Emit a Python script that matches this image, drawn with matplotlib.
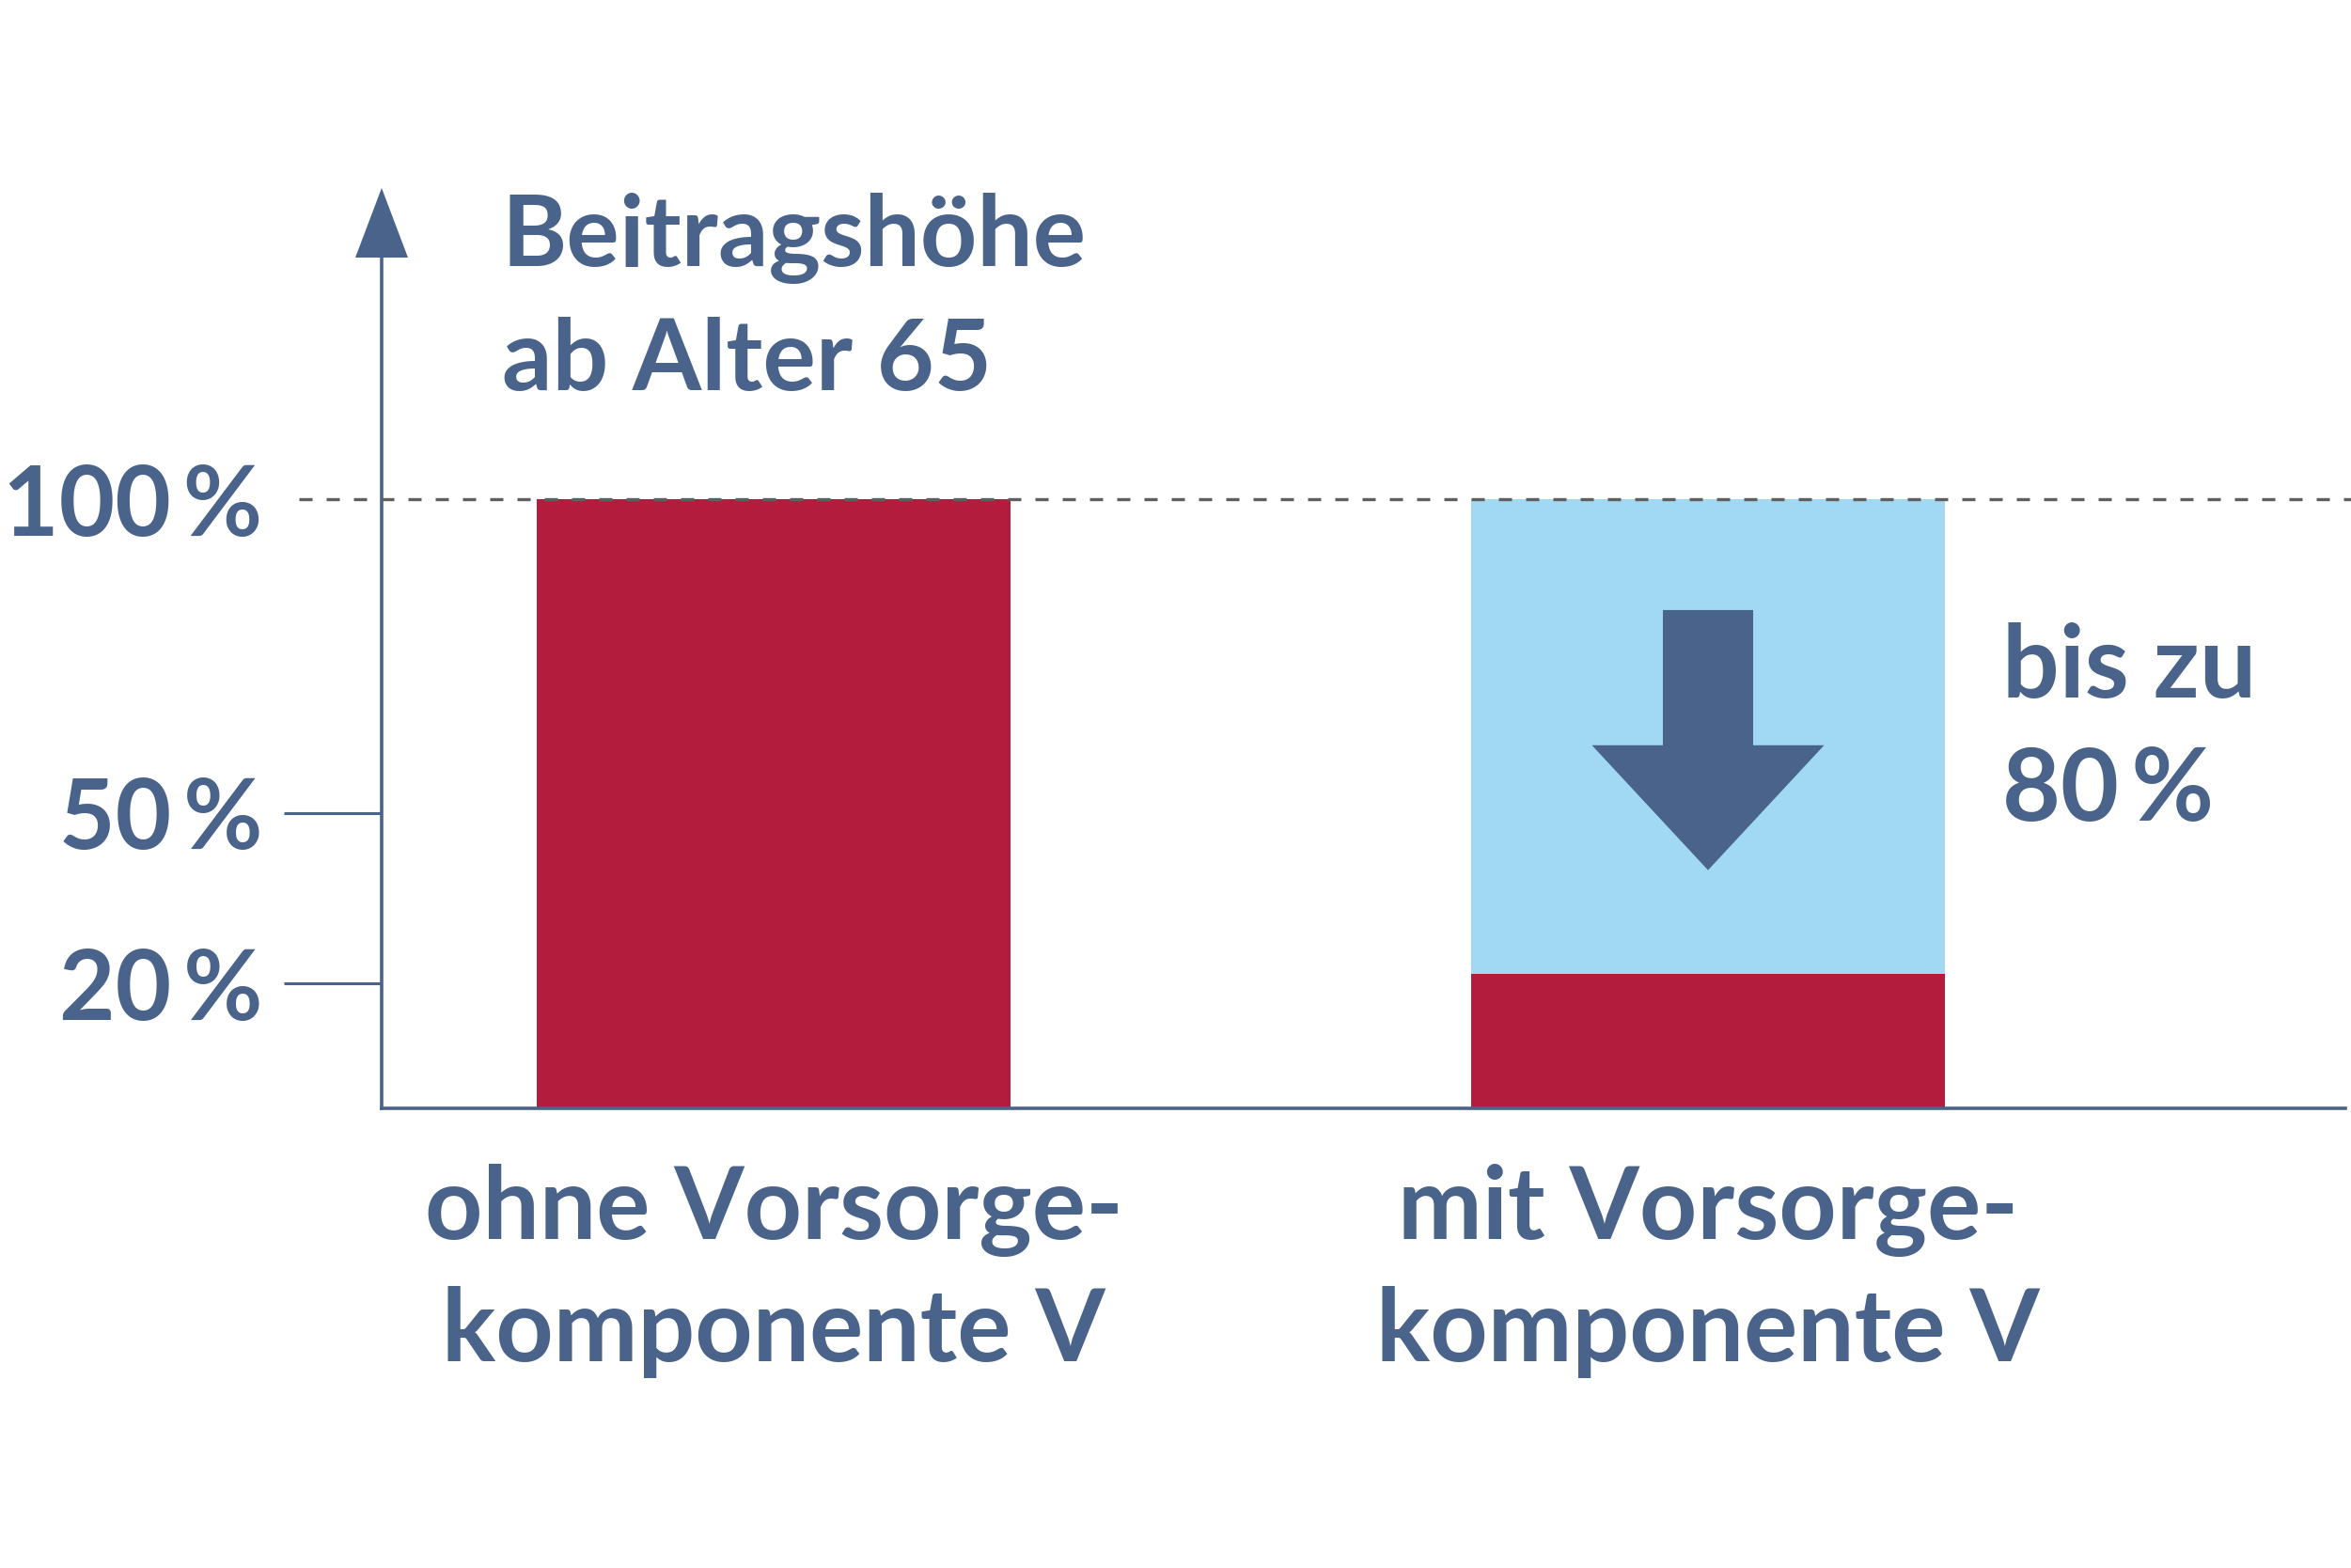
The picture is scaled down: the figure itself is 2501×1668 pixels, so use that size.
import matplotlib
matplotlib.use("Agg")
import matplotlib.pyplot as plt
from matplotlib.patches import Polygon, FancyArrow
from matplotlib.transforms import blended_transform_factory

# ---- data ----
categories = ["ohne Vorsorge-\nkomponente V", "mit Vorsorge-\nkomponente V"]
remaining_share = [100, 22]      # red part (contribution still paid)
reduction_share = [0, 78]        # light-blue part (reduction)
tick_values = [20.5, 48.5, 100]
tick_labels = ["20\u2009%", "50\u2009%", "100\u2009%"]
title_lines = ["Beitragshöhe", "ab Alter 65"]
note_lines = ["bis zu", "80\u2009%"]

# ---- style ----
W, H, DPI = 2501, 1668, 100
BLUE = "#49638A"
RED = "#B41C3E"
LIGHT = "#A1D9F5"
GRAY = "#5F5F5F"
FONT = ["Lato", "DejaVu Sans"]
plt.rcParams["font.family"] = FONT
plt.rcParams["font.weight"] = "bold"

fig = plt.figure(figsize=(W / DPI, H / DPI), dpi=DPI)
fig.patch.set_facecolor("white")

def fx(px):
    return px / W

def fy(py):
    return 1 - py / H

ax_left, ax_right, ax_bottom, ax_top = 406, 2495, 1179, 274
ax = fig.add_axes([fx(ax_left), fy(ax_bottom), fx(ax_right - ax_left), (ax_bottom - ax_top) / H])
ax.set_facecolor("none")

x = list(range(len(categories)))
bar_w = 0.507
ax.bar(x, remaining_share, width=bar_w, color=RED, zorder=2, linewidth=0)
ax.bar(x, reduction_share, width=bar_w, bottom=remaining_share, color=LIGHT, zorder=2, linewidth=0)

unit_px = 994.0
ax.set_xlim(-(823 - ax_left) / unit_px, 1 + (ax_right - 1817) / unit_px)
px_per_pct = (ax_bottom - 531) / 100.0
ax.set_ylim(0, (ax_bottom - ax_top) / px_per_pct)

# spines
for s in ["top", "right"]:
    ax.spines[s].set_visible(False)
for s in ["left", "bottom"]:
    ax.spines[s].set_color(BLUE)
    ax.spines[s].set_linewidth(2.6)
    ax.spines[s].set_zorder(3)

# y ticks
ax.set_yticks(tick_values, tick_labels)
ax.tick_params(axis="y", direction="out", length=75, width=2.2, color=BLUE,
               labelsize=74, labelcolor=BLUE, pad=16)
for t in ax.yaxis.get_major_ticks():
    if t.get_loc() == 100:
        t.tick1line.set_visible(False)
for lab in ax.get_yticklabels():
    lab.set_fontweight("bold")

# x ticks hidden (labels drawn below)
ax.set_xticks([])

# dashed 100% line
ax.plot([-(ax_left - 318) / (ax_right - ax_left), 1.01], [100, 100],
        transform=ax.get_yaxis_transform(), color=GRAY, lw=2.4,
        dashes=(4.2, 4.5), clip_on=False, zorder=4)

# axis arrow head
fig.patches.append(Polygon([(fx(378), fy(ax_top)), (fx(434), fy(ax_top)), (fx(406), fy(200))],
                           closed=True, facecolor=BLUE, edgecolor="none",
                           transform=fig.transFigure, zorder=5))

# downward arrow inside the reduced bar
arrow_top, arrow_tip = 81.8, 39.1
arrow = FancyArrow(1, arrow_top, 0, arrow_tip - arrow_top, width=0.0966,
                   head_width=0.2485, head_length=20.5, length_includes_head=True,
                   color=BLUE, linewidth=0, zorder=5)
ax.add_patch(arrow)

# title
fig.text(fx(534), fy(283), title_lines[0], fontsize=76, color=BLUE, fontweight="bold",
         ha="left", va="baseline")
fig.text(fx(534), fy(414.5), title_lines[1], fontsize=76, color=BLUE, fontweight="bold",
         ha="left", va="baseline")

# note
fig.text(fx(2130), fy(742), note_lines[0], fontsize=77, color=BLUE, fontweight="bold",
         ha="left", va="baseline")
fig.text(fx(2130), fy(873), note_lines[1], fontsize=77, color=BLUE, fontweight="bold",
         ha="left", va="baseline")

# category labels
blend = blended_transform_factory(ax.transData, fig.transFigure)
for i, cat in enumerate(categories):
    l1, l2 = cat.split("\n")
    ax.text(i, fy(1318), l1, transform=blend, fontsize=77, color=BLUE, fontweight="bold",
            ha="center", va="baseline")
    ax.text(i, fy(1448), l2, transform=blend, fontsize=77, color=BLUE, fontweight="bold",
            ha="center", va="baseline")

fig.savefig("out.png", dpi=DPI, facecolor="white")
